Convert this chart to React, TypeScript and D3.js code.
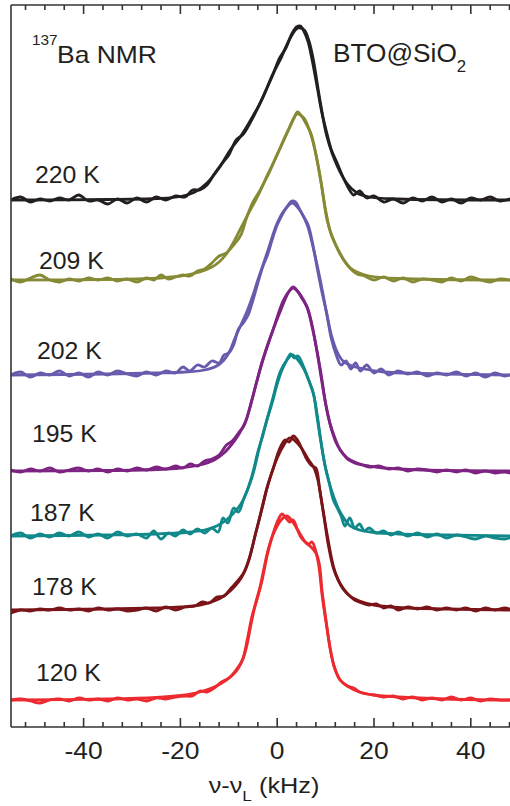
import * as d3 from "d3";

const W = 510;
const H = 806;
const M = { left: 11, right: 510, top: 5, bottom: 727 };
const FONT = '"Liberation Sans", Arial, Helvetica, sans-serif';

type Pt = [number, number];

// temperatures (top to bottom), colours and vertical offsets (a.u.)
const temps = ["220 K", "209 K", "202 K", "195 K", "187 K", "178 K", "120 K"];
const colors = ["#231f20", "#878a35", "#6a5aae", "#7d2382", "#11898a", "#7a1418", "#ec2a2f"];
const offsets = [5.27, 4.47, 3.52, 2.56, 1.91, 1.17, 0.27];

// experimental spectra [kHz, intensity]
const exp220: Pt[] = [[-55,0.0],[-53,0.03],[-51,-0.02],[-49,0.01],[-47,-0.01],[-45,0.02],[-43,0.0],[-41,0.05],[-39,-0.01],[-37,0.0],[-35,-0.04],[-33,0.01],[-31,-0.03],[-29,0.02],[-27,-0.02],[-25,0.03],[-23,0.0],[-21,0.04],[-19,0.03],[-17.5,0.1],[-16,0.1],[-14.5,0.15],[-13,0.26],[-11.5,0.36],[-10,0.45],[-8.5,0.6],[-7,0.66],[-5.5,0.78],[-4,0.92],[-2.5,1.08],[-1,1.24],[0.5,1.42],[1.8,1.52],[3,1.66],[4,1.73],[4.8,1.74],[5.6,1.68],[6.4,1.58],[7.3,1.38],[8.3,1.12],[9.2,0.88],[10.2,0.68],[11.2,0.5],[12.3,0.38],[13.5,0.24],[14.5,0.14],[15.8,0.05],[17,0.09],[18.5,0.02],[20,0.04],[22,-0.02],[24,0.01],[26,-0.03],[28,0.02],[30,-0.01],[32,0.03],[34,-0.02],[36,0.01],[38,-0.03],[40,0.02],[42,0.0],[44,0.03],[46,-0.01],[48,0.01]];
const exp209: Pt[] = [[-55,0.01],[-53,-0.02],[-51,0.02],[-49,0.05],[-47,0.0],[-45,-0.02],[-43,0.01],[-41,-0.01],[-39,0.02],[-37,0.0],[-35,0.02],[-33,-0.01],[-31,0.01],[-29,-0.02],[-27,0.02],[-25.5,0.0],[-24,0.05],[-22.5,0.01],[-21,0.03],[-19.5,0.05],[-18,0.04],[-16.5,0.09],[-15,0.11],[-13.5,0.17],[-12,0.24],[-10.5,0.27],[-9,0.35],[-7.5,0.45],[-6.2,0.64],[-5,0.78],[-3.5,0.9],[-2,1.04],[-0.5,1.2],[1,1.36],[2.5,1.52],[3.5,1.62],[4.2,1.68],[5,1.64],[6,1.56],[7,1.46],[8,1.26],[9,1.0],[10,0.7],[11,0.48],[12,0.36],[13,0.26],[14,0.18],[15,0.12],[16.5,0.06],[18,0.04],[20,0.0],[22,0.03],[24,-0.01],[26,0.02],[28,-0.02],[30,0.01],[32,0.0],[34,-0.02],[36,0.02],[38,-0.01],[40,0.03],[42,0.0],[44,-0.02],[46,0.01],[48,0.0]];
const exp202: Pt[] = [[-55,0.0],[-53,0.03],[-51,-0.02],[-49,0.02],[-47,0.0],[-45,0.04],[-43,-0.01],[-41,0.02],[-39,-0.02],[-37,0.03],[-35,0.0],[-33,0.04],[-31,0.01],[-29,-0.01],[-27,0.03],[-25,0.0],[-23,0.04],[-21,0.02],[-19.5,0.08],[-18,0.04],[-16.5,0.1],[-15,0.08],[-13.5,0.14],[-12,0.12],[-11,0.2],[-10,0.22],[-9,0.3],[-8,0.46],[-7,0.52],[-6,0.6],[-5,0.75],[-4,0.92],[-3,1.08],[-2,1.2],[-1,1.36],[0,1.5],[1,1.6],[2,1.68],[3,1.74],[3.8,1.73],[4.6,1.66],[5.5,1.58],[6.4,1.5],[7.3,1.32],[8.3,1.06],[9.2,0.84],[10.2,0.62],[11.2,0.36],[12.2,0.2],[13.2,0.1],[14.2,0.14],[15.2,0.06],[16.2,0.12],[17.2,0.04],[18.5,0.1],[20,0.02],[21.5,0.06],[23,0.0],[25,0.04],[27,0.01],[29,0.03],[31,-0.01],[33,0.02],[35,0.0],[37,0.03],[39,-0.01],[41,0.02],[43,-0.02],[45,0.02],[47,-0.01],[48,0.0]];
const exp195: Pt[] = [[-55,0.01],[-53,-0.01],[-51,0.02],[-49,0.0],[-47,0.03],[-45,-0.01],[-43,0.01],[-41,0.03],[-39,0.0],[-37,0.02],[-35,-0.01],[-33,0.02],[-31,0.0],[-29,0.03],[-27,0.01],[-25,0.04],[-23,0.02],[-21,0.05],[-19.5,0.03],[-18,0.07],[-16.5,0.05],[-15,0.1],[-13.5,0.12],[-12,0.16],[-10.5,0.26],[-9.3,0.3],[-8,0.38],[-6.8,0.46],[-5.6,0.64],[-4.4,0.86],[-3.2,1.08],[-2,1.26],[-0.8,1.42],[0.5,1.58],[1.5,1.7],[2.5,1.8],[3.3,1.84],[4.2,1.8],[5.2,1.72],[6.2,1.64],[7.2,1.46],[8.2,1.2],[9.2,0.9],[10.2,0.62],[11.2,0.42],[12.2,0.28],[13.2,0.2],[14.5,0.12],[16,0.08],[17.5,0.06],[19,0.04],[21,0.05],[23,0.02],[25,0.03],[27,0.0],[29,0.02],[31,0.01],[33,-0.01],[35,0.01],[37,-0.01],[39,0.01],[41,-0.02],[43,0.0],[45,-0.02],[47,-0.01],[48,-0.02]];
const exp187: Pt[] = [[-55,0.0],[-53,0.03],[-51,-0.02],[-49,0.02],[-47,-0.01],[-45,0.03],[-43,0.0],[-41,0.04],[-39,-0.01],[-37,0.02],[-35,-0.02],[-33,0.04],[-31,0.0],[-29,0.02],[-27,-0.02],[-25.5,0.05],[-24,-0.03],[-22.5,0.03],[-21,0.0],[-19.5,0.06],[-18,0.02],[-16.5,0.07],[-15,0.03],[-13.5,0.08],[-12.2,0.04],[-11.2,0.18],[-10.2,0.13],[-9,0.28],[-8,0.24],[-7,0.36],[-6,0.48],[-5,0.64],[-4,0.84],[-3,1.0],[-2,1.18],[-1,1.34],[0,1.52],[1,1.66],[2,1.76],[2.8,1.82],[3.5,1.78],[4.3,1.8],[5.4,1.7],[6.5,1.56],[7.5,1.42],[8.3,1.2],[9,0.96],[9.9,0.7],[10.8,0.52],[11.6,0.36],[12.4,0.28],[13.2,0.2],[14,0.1],[15,0.18],[16,0.08],[17,0.12],[18,0.05],[19,0.08],[20.5,0.03],[22,0.05],[23.5,0.01],[25,0.04],[27,0.0],[29,0.03],[31,-0.01],[33,0.02],[35,-0.02],[37,0.01],[39,-0.01],[41,-0.03],[43,0.0],[45,-0.02],[47,-0.03],[48,-0.02]];
const exp178: Pt[] = [[-55,-0.03],[-53,0.0],[-51,-0.01],[-49,0.01],[-47,0.0],[-45,0.02],[-43,0.0],[-41,0.01],[-39,-0.01],[-37,0.02],[-35,0.0],[-33,0.01],[-31,-0.01],[-29,0.0],[-27,0.02],[-25,-0.01],[-23,0.03],[-21,0.0],[-19,0.03],[-17,0.04],[-15.5,0.08],[-14,0.07],[-12.5,0.13],[-11,0.14],[-9.5,0.22],[-8,0.3],[-6.8,0.38],[-5.6,0.54],[-4.4,0.78],[-3.2,1.0],[-2,1.24],[-0.8,1.42],[0.4,1.6],[1.6,1.7],[2.5,1.68],[3.3,1.74],[4.2,1.7],[5.2,1.6],[6.2,1.5],[7.2,1.44],[8,1.42],[8.8,1.2],[9.7,0.92],[10.6,0.64],[11.6,0.42],[12.6,0.3],[13.6,0.22],[14.8,0.15],[16,0.1],[17.5,0.07],[19,0.05],[20.5,0.06],[22,0.02],[23.5,0.04],[25,0.0],[27,0.03],[29,0.01],[31,0.03],[33,0.0],[35,0.02],[37,0.0],[39,0.02],[41,-0.01],[43,0.02],[45,0.0],[47,0.02],[48,0.01]];
const exp120: Pt[] = [[-55,0.0],[-53,0.01],[-51,-0.01],[-49,-0.03],[-47,0.0],[-45,0.01],[-43,-0.01],[-41,0.02],[-39,0.0],[-37,0.01],[-35,-0.01],[-33,0.02],[-31,0.0],[-29,0.01],[-27,-0.01],[-25,0.02],[-23,0.01],[-21,0.03],[-19,0.04],[-17.5,0.04],[-16,0.09],[-14.5,0.08],[-13,0.12],[-11.5,0.18],[-10,0.22],[-8.5,0.3],[-7.2,0.4],[-6.2,0.6],[-5.2,0.84],[-4.2,1.0],[-3.2,1.18],[-2,1.46],[-1,1.64],[0,1.78],[1,1.86],[1.8,1.82],[2.6,1.78],[3.3,1.8],[4.2,1.7],[5,1.62],[5.8,1.58],[6.5,1.56],[7.2,1.58],[7.9,1.5],[8.6,1.34],[9.3,1.04],[10.2,0.74],[11,0.5],[11.8,0.33],[13,0.2],[14.5,0.14],[15.8,0.12],[17,0.08],[18.5,0.06],[20,0.05],[22,0.03],[24,0.04],[26,0.01],[28,0.03],[30,0.0],[32,0.02],[34,0.0],[36,0.03],[38,0.0],[40,0.02],[42,-0.01],[44,0.01],[46,0.0],[48,0.0]];

// fitted line shapes [kHz, intensity]
const fit220: Pt[] = [[-55,0],[-35,0.005],[-25,0.015],[-20,0.035],[-17,0.08],[-14.5,0.17],[-12,0.32],[-9.7,0.5],[-7.5,0.64],[-5,0.84],[-2.9,1.03],[-1,1.25],[0.6,1.4],[2.7,1.62],[4.3,1.72],[5.6,1.7],[6.5,1.6],[7.4,1.42],[8.9,0.98],[10.3,0.63],[12.4,0.34],[14.5,0.16],[16.5,0.07],[19,0.03],[25,0.01],[48,0]];
const fit209: Pt[] = [[-55,0],[-35,0.005],[-26,0.015],[-20,0.04],[-16,0.08],[-13.5,0.13],[-12,0.18],[-10.5,0.26],[-9,0.38],[-7.5,0.52],[-6,0.66],[-4,0.84],[-2.5,1.0],[-1,1.15],[0.6,1.32],[2.3,1.5],[4.1,1.66],[5.5,1.62],[6.5,1.52],[7.4,1.38],[8.3,1.18],[9.2,0.93],[10.3,0.6],[11.3,0.44],[12.4,0.32],[13.8,0.2],[15.1,0.12],[17,0.07],[19,0.04],[25,0.015],[48,0]];
const fit202: Pt[] = [[-55,0],[-35,0.01],[-25,0.02],[-19,0.03],[-15,0.05],[-12.5,0.09],[-11,0.15],[-9.8,0.24],[-8.8,0.36],[-7.5,0.5],[-6.2,0.64],[-5,0.8],[-4,0.95],[-2.1,1.22],[0,1.52],[1.5,1.65],[3.1,1.72],[4.5,1.66],[6.2,1.5],[7.4,1.28],[8.9,0.95],[10.3,0.6],[11.3,0.38],[12.3,0.24],[13.6,0.14],[15.5,0.09],[18,0.06],[22,0.03],[30,0.015],[48,0]];
const fit195: Pt[] = [[-55,0],[-35,0.005],[-25,0.015],[-20,0.03],[-16,0.06],[-13,0.11],[-11,0.18],[-9.5,0.26],[-8,0.36],[-6.5,0.5],[-5.3,0.7],[-4.2,0.9],[-3,1.1],[-0.8,1.42],[1.2,1.7],[2.5,1.8],[3.3,1.83],[4.5,1.78],[6.2,1.63],[7.4,1.4],[8.9,1.02],[10,0.68],[11,0.46],[12,0.32],[13,0.21],[14.5,0.13],[16.5,0.08],[19,0.05],[22,0.03],[30,0.01],[48,0]];
const fit187: Pt[] = [[-55,0],[-35,0.01],[-25,0.02],[-19,0.035],[-15,0.06],[-12.5,0.1],[-10.5,0.16],[-9,0.23],[-7.5,0.32],[-6,0.48],[-5,0.62],[-3.8,0.86],[-2.9,1.03],[-1,1.36],[0.6,1.64],[2,1.76],[3.1,1.81],[4.3,1.76],[5.4,1.68],[6.5,1.56],[7.5,1.42],[8.2,1.2],[8.9,0.98],[9.9,0.7],[11.4,0.43],[13,0.24],[15.1,0.1],[17,0.06],[20,0.035],[25,0.02],[35,0.01],[48,0]];
const fit178: Pt[] = [[-55,0],[-35,0.01],[-25,0.02],[-20,0.03],[-16,0.05],[-13,0.09],[-11,0.14],[-9.5,0.2],[-8,0.28],[-7,0.36],[-6,0.48],[-5,0.66],[-4.1,0.83],[-2.1,1.22],[0,1.52],[1.5,1.66],[2.5,1.72],[3.5,1.7],[5,1.62],[6.5,1.5],[7.6,1.42],[8.4,1.3],[9.2,1.08],[10.3,0.76],[11.6,0.44],[12.6,0.3],[13.6,0.21],[15,0.14],[17,0.09],[20,0.05],[25,0.025],[35,0.01],[48,0]];
const fit120: Pt[] = [[-55,0],[-35,0.01],[-25,0.025],[-20,0.045],[-16,0.08],[-13,0.13],[-10.5,0.2],[-9,0.26],[-8,0.32],[-7,0.42],[-6.2,0.56],[-5.4,0.76],[-4.5,0.96],[-3.5,1.14],[-1.9,1.5],[-0.8,1.66],[0.8,1.8],[2,1.84],[3.2,1.78],[4.5,1.68],[5.8,1.58],[7,1.53],[8,1.47],[8.7,1.36],[9.3,1.08],[10.2,0.76],[11,0.5],[11.8,0.33],[13,0.2],[14.5,0.14],[17,0.08],[20,0.05],[25,0.03],[35,0.01],[48,0]];

const expData = [exp220, exp209, exp202, exp195, exp187, exp178, exp120];
const fitData = [fit220, fit209, fit202, fit195, fit187, fit178, fit120];

const xTicks = d3.range(-52, 49, 4);
const xLabels = [-40, -20, 0, 20, 40];

// label placement (px)
const labelXY: Pt[] = [[35, 183], [39, 269], [37, 359], [32, 442], [30, 521], [32, 595], [36, 681]];

const x = d3.scaleLinear().domain([-55, 48.1]).range([M.left, M.right]);
const y = d3.scaleLinear().domain([0, 7.22]).range([M.bottom, M.top]);

function Txt(props: any) {
  const { x: tx, y: ty, size, sx = 1.1, anchor = "start", children } = props;
  return (
    <text
      transform={`translate(${tx},${ty}) scale(${sx},1)`}
      fontSize={size}
      fontFamily={FONT}
      textAnchor={anchor}
      fill="#231f20"
    >
      {children}
    </text>
  );
}

export default function App() {
  const mkLine = (off: number) =>
    d3
      .line<Pt>()
      .x((d) => x(d[0]))
      .y((d) => y(off + d[1]))
      .curve(d3.curveCatmullRom.alpha(0.5));

  return (
    <div style={{ position: "absolute", left: 0, top: 0 }}>
      <svg width={W} height={H} style={{ display: "block", background: "#fff" }}>
        <defs>
          <clipPath id="plot">
            <rect x={M.left} y={M.top} width={M.right - M.left} height={M.bottom - M.top} />
          </clipPath>
        </defs>

        <g clipPath="url(#plot)" fill="none" strokeLinejoin="round" strokeLinecap="round">
          {temps.map((t, i) => {
            const line = mkLine(offsets[i]);
            return (
              <g key={t} stroke={colors[i]} strokeWidth={2.8}>
                <path d={line(expData[i]) || ""} />
                <path d={line(fitData[i]) || ""} />
              </g>
            );
          })}
        </g>

        {/* frame */}
        <g stroke="#333" strokeWidth={1.6} fill="none">
          <line x1={M.left} x2={M.left} y1={M.top} y2={M.bottom} />
          <line x1={M.left} x2={M.right} y1={M.bottom} y2={M.bottom} />
          <line x1={M.left} x2={M.right} y1={M.top} y2={M.top} />
          {xTicks.map((t) => {
            const len = t % 20 === 0 ? 9 : 5;
            return (
              <g key={t}>
                <line x1={x(t)} x2={x(t)} y1={M.bottom} y2={M.bottom - len} />
                <line x1={x(t)} x2={x(t)} y1={M.top} y2={M.top + len} />
              </g>
            );
          })}
        </g>

        {xLabels.map((t) => (
          <Txt key={t} x={x(t)} y={759} size={24} anchor="middle">
            {t}
          </Txt>
        ))}

        <text
          transform={`translate(264,793) scale(1.15,1)`}
          fontSize={22}
          fontFamily={FONT}
          textAnchor="middle"
          fill="#231f20"
        >
          ν-ν<tspan fontSize={15} dy={8}>L</tspan>
          <tspan dy={-8}> (kHz)</tspan>
        </text>

        {temps.map((t, i) => (
          <Txt key={t} x={labelXY[i][0]} y={labelXY[i][1]} size={23} sx={1.08}>
            {t}
          </Txt>
        ))}

        <Txt x={32} y={45} size={14} sx={1.1}>137</Txt>
        <Txt x={57} y={63} size={23} sx={1.15}>Ba NMR</Txt>
        <Txt x={333} y={62} size={25} sx={1.05}>
          BTO@SiO<tspan fontSize={16} dy={10}>2</tspan>
        </Txt>
      </svg>
    </div>
  );
}
